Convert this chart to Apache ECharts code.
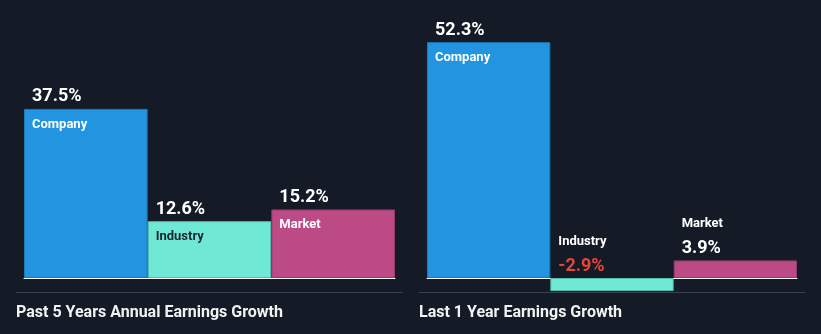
<!DOCTYPE html>
<html>
<head>
<meta charset="utf-8">
<script src="https://cdn.jsdelivr.net/npm/echarts@6/dist/echarts.min.js"></script>
<style>
html,body{margin:0;padding:0;background:#151b26;}
#chart{width:821px;height:334px;}
</style>
</head>
<body>
<div id="chart"></div>
<script>
const categories = ['Company', 'Industry', 'Market'];
const past5Years = [37.5, 12.6, 15.2];
const last1Year = [52.3, -2.9, 3.9];
const panelTitles = ['Past 5 Years Annual Earnings Growth', 'Last 1 Year Earnings Growth'];

const barColors = ['#2394df', '#6fe8d5', '#bb4a85'];
const borderColors = ['#1d78b8', '#52bfae', '#97396b'];
const nameColorsInside = ['#ffffff', '#1c2530', '#ffffff'];
const FONT = 'Roboto, "Noto Sans", sans-serif';

const chart = echarts.init(document.getElementById('chart'), null, {renderer: 'canvas'});

const pxPerUnit = 4.51;
const yMin = -3, yMax = 57;
const baseY = 278;
const gridTop = baseY - yMax * pxPerUnit;
const gridHeight = (yMax - yMin) * pxPerUnit;

const panels = [
  {left: 24, width: 371, values: past5Years},
  {left: 427, width: 370, values: last1Year}
];

const grids = [], xAxes = [], yAxes = [], series = [];
panels.forEach((p, i) => {
  grids.push({left: p.left, width: p.width, top: gridTop, height: gridHeight, containLabel: false});
  xAxes.push({
    type: 'category', gridIndex: i, data: categories,
    axisLine: {show: true, onZero: true, lineStyle: {color: '#ffffff', width: 1}},
    axisTick: {show: false}, axisLabel: {show: false}, splitLine: {show: false}
  });
  yAxes.push({
    type: 'value', gridIndex: i, min: yMin, max: yMax,
    axisLine: {show: false}, axisTick: {show: false}, axisLabel: {show: false}, splitLine: {show: false}
  });
  const small = v => Math.abs(v) < 8;
  series.push({
    type: 'bar', xAxisIndex: i, yAxisIndex: i,
    barCategoryGap: '0%', barGap: '-100%',
    silent: true, z: 2,
    data: p.values.map((v, k) => ({
      value: v,
      itemStyle: {color: barColors[k], borderColor: borderColors[k], borderWidth: 1},
      label: small(v) ? {
        show: true, position: [8, -30], align: 'left', verticalAlign: 'bottom',
        formatter: categories[k], color: '#ffffff',
        fontFamily: FONT, fontWeight: 'bold', fontSize: 13
      } : {
        show: true, position: [8, 9], align: 'left', verticalAlign: 'top',
        formatter: categories[k], color: nameColorsInside[k],
        fontFamily: FONT, fontWeight: 'bold', fontSize: 13
      }
    }))
  });
  series.push({
    type: 'bar', xAxisIndex: i, yAxisIndex: i,
    barCategoryGap: '0%', barGap: '-100%',
    silent: true, z: 3,
    data: p.values.map((v, k) => ({
      value: v,
      itemStyle: {color: 'rgba(0,0,0,0)'},
      label: {
        show: true, position: [8, -3], align: 'left', verticalAlign: 'bottom',
        formatter: v.toFixed(1) + '%', color: v < 0 ? '#e8453c' : '#ffffff',
        fontFamily: FONT, fontWeight: 'bold', fontSize: 18
      }
    }))
  });
});

const option = {
  backgroundColor: '#151b26',
  animation: false,
  grid: grids,
  xAxis: xAxes,
  yAxis: yAxes,
  series: series,
  graphic: [
    {type: 'line', shape: {x1: 16, y1: 292.5, x2: 403, y2: 292.5}, style: {stroke: '#3b404a', lineWidth: 1}},
    {type: 'line', shape: {x1: 419, y1: 292.5, x2: 805, y2: 292.5}, style: {stroke: '#3b404a', lineWidth: 1}},
    {type: 'text', left: 16, top: 305, style: {text: panelTitles[0], fill: '#f2f2f2', font: 'bold 16px ' + FONT}},
    {type: 'text', left: 419, top: 305, style: {text: panelTitles[1], fill: '#f2f2f2', font: 'bold 16px ' + FONT}}
  ]
};
chart.setOption(option);
</script>
</body>
</html>
